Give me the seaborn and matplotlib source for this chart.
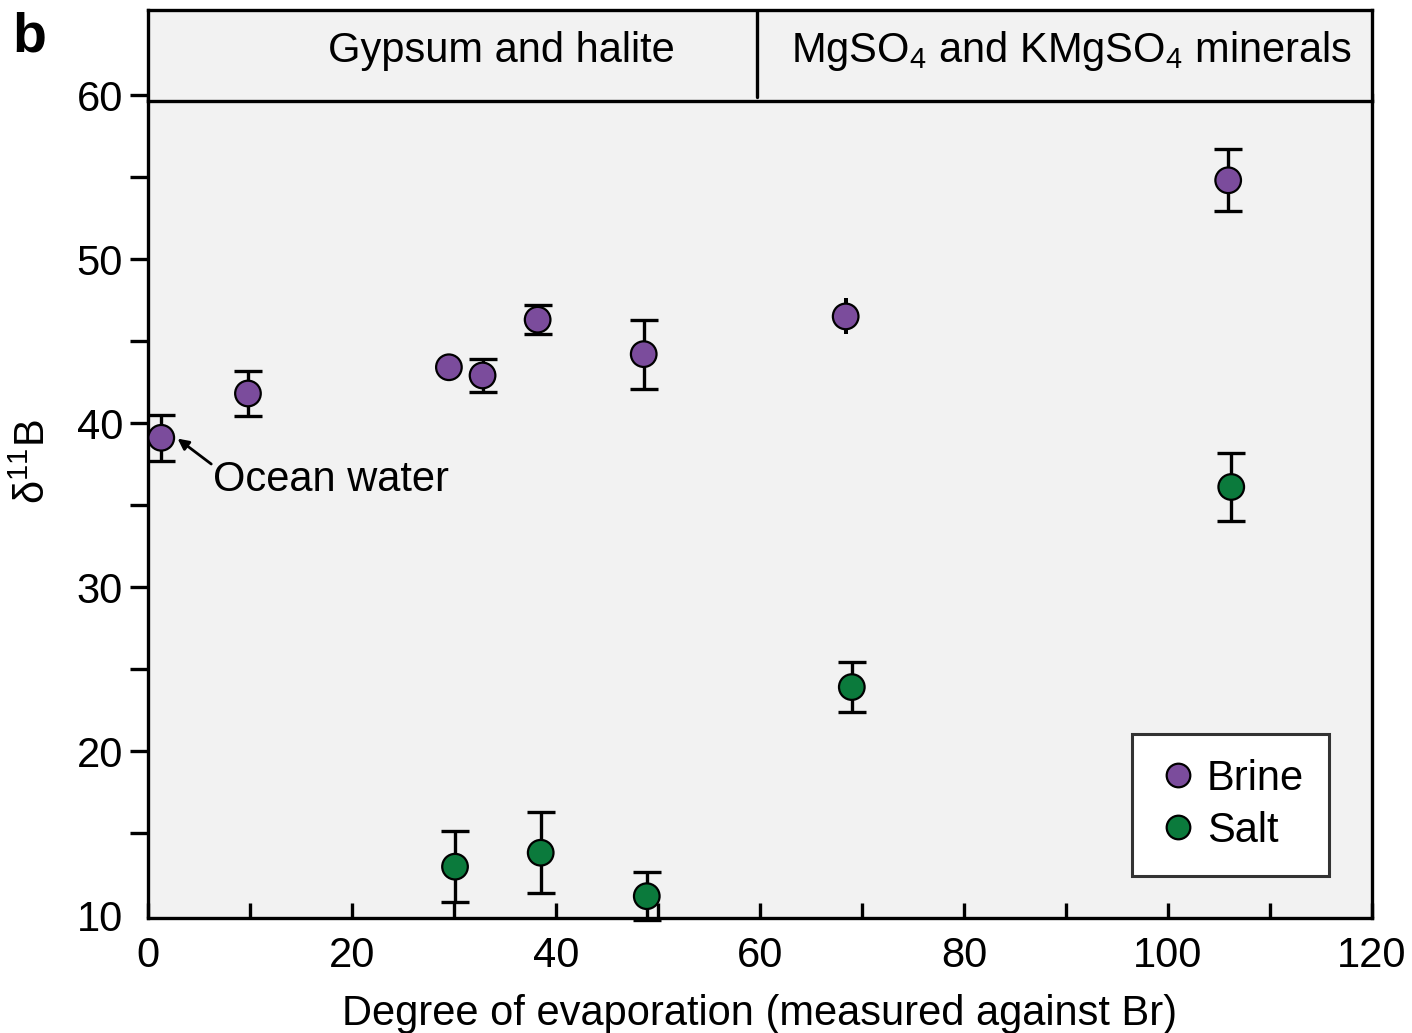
import matplotlib
matplotlib.use("Agg")
import matplotlib.pyplot as plt
from matplotlib.ticker import MultipleLocator, FixedLocator
from matplotlib.lines import Line2D
import seaborn as sns
import pandas as pd

# ---- data ----
brine_x = [1.3, 9.8, 29.5, 32.8, 38.2, 48.6, 68.4, 105.9]
brine_y = [39.1, 41.8, 43.4, 42.9, 46.3, 44.2, 46.5, 54.8]
brine_err = [1.4, 1.4, 0.0, 1.0, 0.9, 2.1, 1.1, 1.9]
brine_capped = [True, True, False, True, True, True, False, True]

salt_x = [30.1, 38.5, 48.9, 69.0, 106.2]
salt_y = [12.95, 13.8, 11.15, 23.9, 36.1]
salt_err = [2.17, 2.47, 1.46, 1.5, 2.07]

series_names = ["Brine", "Salt"]
header_labels = ["Gypsum and halite", "MgSO$_4$ and KMgSO$_4$ minerals"]
header_split = 59.7
y_ticks = [10, 20, 30, 40, 50, 60]
x_label = "Degree of evaporation (measured against Br)"
y_label = "δ$^{11}$B"

PURPLE = "#7B4C9C"
GREEN = "#0B7A3C"
BG = "#f2f2f2"

sns.set_theme(style="white")
plt.rcParams["font.family"] = ["Liberation Sans", "DejaVu Sans"]
plt.rcParams["mathtext.fontset"] = "custom"
plt.rcParams["mathtext.rm"] = "Liberation Sans"
plt.rcParams["mathtext.it"] = "Liberation Sans:italic"
plt.rcParams["mathtext.bf"] = "Liberation Sans:bold"
for k in ["text.color", "axes.labelcolor", "xtick.color", "ytick.color"]:
    plt.rcParams[k] = "black"

FS = 30
LW = 2.4

fig = plt.figure(figsize=(14.12, 10.33), dpi=100)
fig.patch.set_facecolor("white")
L, R = 148 / 1412, 1372 / 1412
B, T = 1 - 918 / 1033, 1 - 95 / 1033
HB = 1 - 101 / 1033
HT = 1 - 10 / 1033
ax = fig.add_axes([L, B, R - L, T - B])
hdr = fig.add_axes([L, HB, R - L, HT - HB])
hdr.set_zorder(ax.get_zorder() + 1)

ax.set_facecolor(BG)
hdr.set_facecolor(BG)

df = pd.DataFrame({
    "x": brine_x + salt_x,
    "y": brine_y + salt_y,
    "type": [series_names[0]] * len(brine_x) + [series_names[1]] * len(salt_x),
})

# error bars
cx = [x for x, c in zip(brine_x, brine_capped) if c]
cy = [y for y, c in zip(brine_y, brine_capped) if c]
ce = [e for e, c in zip(brine_err, brine_capped) if c]
ax.errorbar(cx, cy, yerr=ce, fmt="none", ecolor="black", elinewidth=LW,
            capsize=10, capthick=LW, zorder=2, clip_on=False)
nx = [x for x, c, e in zip(brine_x, brine_capped, brine_err) if not c and e > 0]
ny = [y for y, c, e in zip(brine_y, brine_capped, brine_err) if not c and e > 0]
ne = [e for c, e in zip(brine_capped, brine_err) if not c and e > 0]
ax.errorbar(nx, ny, yerr=ne, fmt="none", ecolor="black", elinewidth=LW * 1.2,
            capsize=0, zorder=2)
ax.errorbar(salt_x, salt_y, yerr=salt_err, fmt="none", ecolor="black",
            elinewidth=LW, capsize=10, capthick=LW, zorder=2, clip_on=False)

sns.scatterplot(data=df, x="x", y="y", hue="type",
                palette={series_names[0]: PURPLE, series_names[1]: GREEN},
                s=340, edgecolor="black", linewidth=1.6, ax=ax, zorder=3,
                legend=False)

ax.set_xlim(0, 120)
ax.set_ylim(9.82, 60)
ax.xaxis.set_major_locator(MultipleLocator(20))
ax.xaxis.set_minor_locator(MultipleLocator(10))
ax.yaxis.set_major_locator(FixedLocator(y_ticks))
ax.yaxis.set_minor_locator(MultipleLocator(5))
ax.tick_params(axis="x", which="both", direction="in", length=11, width=LW,
               labelsize=FS, pad=13, bottom=True, top=False, colors="black")
ax.tick_params(axis="y", which="both", direction="out", length=13, width=LW,
               labelsize=FS, pad=5, left=True, right=False, colors="black")
for s in ax.spines.values():
    s.set_linewidth(LW)
    s.set_color("black")
ax.spines["top"].set_visible(False)

# the bottom (10) tick mark is not drawn in the reference, only its label
yt = ax.yaxis.get_major_ticks(len(y_ticks))
yt[0].tick1line.set_markersize(0)

ax.set_xlabel(x_label, fontsize=FS)
ax.set_ylabel(y_label, fontsize=FS, va="center", ha="center")
ax.xaxis.set_label_coords(0.5, -0.092)
ax.yaxis.set_label_coords(-0.093, 0.554)

# annotation
ax.annotate("", xy=(2.9, 39.05), xytext=(6.2, 37.5),
            arrowprops=dict(arrowstyle="-|>", color="black", lw=2,
                            mutation_scale=16, shrinkA=0, shrinkB=0))
ax.text(6.4, 36.5, "Ocean water", fontsize=FS, ha="left", va="center")

# legend
handles = [Line2D([0], [0], marker="o", linestyle="none", markersize=17,
                  markerfacecolor=PURPLE, markeredgecolor="black", markeredgewidth=1.6),
           Line2D([0], [0], marker="o", linestyle="none", markersize=17,
                  markerfacecolor=GREEN, markeredgecolor="black", markeredgewidth=1.6)]
leg = ax.legend(handles, series_names, loc="lower right",
                bbox_to_anchor=(0.965, 0.051), fontsize=FS, frameon=True,
                fancybox=False, framealpha=1, edgecolor="#333333",
                handletextpad=0.2, labelspacing=0.3, borderpad=0.6,
                handlelength=1.0, borderaxespad=0)
leg.get_frame().set_linewidth(2.2)
leg.get_frame().set_facecolor("white")

# header
hdr.set_xlim(0, 120)
hdr.set_ylim(0, 1)
hdr.set_xticks([])
hdr.set_yticks([])
for s in hdr.spines.values():
    s.set_linewidth(LW)
    s.set_color("black")
hdr.plot([header_split, header_split], [0.04, 1], color="black", lw=LW)
hdr.text(34.6, 0.55, header_labels[0], fontsize=FS, ha="center", va="center")
hdr.text(90.5, 0.55, header_labels[1], fontsize=FS, ha="center", va="center")

fig.text(12 / 1412, 1 - 12 / 1033, "b", fontsize=40, fontweight="bold",
         ha="left", va="top")

fig.savefig("out.png", dpi=100)
